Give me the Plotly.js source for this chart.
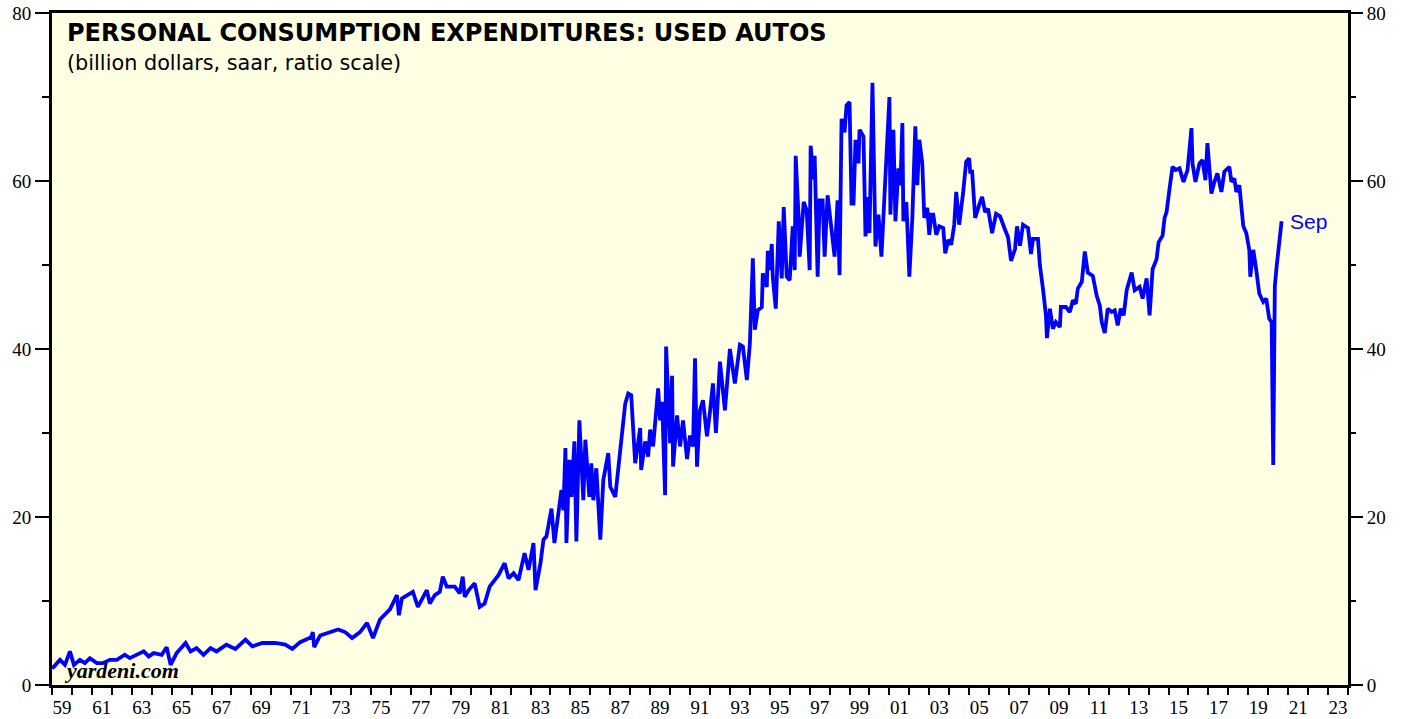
<!DOCTYPE html>
<html>
<head>
<meta charset="utf-8">
<script src="https://cdn.plot.ly/plotly-3.0.1.min.js"></script>
<style>html,body{margin:0;padding:0;background:#fff;}#chart{width:1407px;height:719px;}</style>
</head>
<body>
<div id="chart"></div>
<script>
// Decimal-year dates and values (billion dollars, saar)
const years = [
1959.0,1959.1,1959.4,1959.65,1959.9,1960.1,1960.4,1960.65,1960.9,1961.25,1961.55,1961.9,
1962.25,1962.65,1962.9,1963.25,1963.6,1963.85,1964.1,1964.5,1964.75,1964.95,1965.25,1965.7,
1965.95,1966.25,1966.6,1966.95,1967.25,1967.75,1968.2,1968.7,1969.05,1969.55,1970.2,1970.7,
1971.05,1971.45,1972.0,1972.08,1972.15,1972.45,1972.95,1973.35,1973.7,1974.05,1974.45,1974.8,
1975.1,1975.45,1975.95,1976.3,1976.4,1976.55,1977.1,1977.35,1977.8,1977.95,1978.2,1978.45,
1978.6,1978.8,1979.2,1979.45,1979.6,1979.7,1979.9,1980.2,1980.45,1980.7,1980.95,1981.4,
1981.7,1981.9,1982.15,1982.4,1982.7,1982.9,1983.15,1983.25,1983.5,1983.65,1983.8,1984.05,
1984.2,1984.4,1984.55,1984.65,1984.75,1984.8,1984.95,1985.05,1985.2,1985.3,1985.45,1985.65,
1985.75,1985.95,1986.05,1986.15,1986.3,1986.5,1986.65,1986.9,1987.0,1987.25,1987.5,1987.75,
1987.9,1988.05,1988.25,1988.5,1988.55,1988.75,1988.9,1989.0,1989.15,1989.25,1989.4,1989.5,
1989.6,1989.75,1989.8,1990.0,1990.1,1990.15,1990.35,1990.5,1990.65,1990.85,1991.0,1991.15,
1991.25,1991.35,1991.5,1991.65,1991.85,1992.0,1992.15,1992.3,1992.5,1992.75,1993.0,1993.25,
1993.5,1993.65,1993.85,1994.0,1994.15,1994.25,1994.4,1994.6,1994.65,1994.85,1994.9,1995.0,
1995.1,1995.15,1995.3,1995.45,1995.6,1995.7,1995.85,1996.0,1996.15,1996.25,1996.3,1996.45,
1996.5,1996.7,1996.85,1997.0,1997.05,1997.2,1997.25,1997.4,1997.5,1997.65,1997.75,1997.9,
1998.1,1998.25,1998.4,1998.5,1998.6,1998.75,1998.85,1999.0,1999.1,1999.2,1999.3,1999.45,
1999.5,1999.7,1999.8,1999.95,2000.0,2000.15,2000.3,2000.45,2000.6,2001.0,2001.05,2001.2,
2001.3,2001.45,2001.55,2001.65,2001.7,2001.85,2002.0,2002.15,2002.3,2002.4,2002.5,2002.65,
2002.75,2002.9,2003.0,2003.1,2003.2,2003.35,2003.5,2003.7,2003.8,2003.95,2004.1,2004.25,
2004.35,2004.5,2004.7,2004.85,2005.0,2005.05,2005.15,2005.3,2005.55,2005.65,2005.8,2005.95,
2006.05,2006.15,2006.35,2006.55,2006.8,2006.95,2007.1,2007.3,2007.4,2007.55,2007.7,2007.95,
2008.1,2008.2,2008.45,2008.55,2008.7,2008.85,2008.9,2009.05,2009.2,2009.35,2009.55,2009.6,
2009.85,2010.05,2010.2,2010.35,2010.45,2010.65,2010.8,2010.95,2011.2,2011.4,2011.55,2011.65,
2011.8,2011.95,2012.15,2012.3,2012.45,2012.6,2012.75,2012.9,2013.15,2013.3,2013.55,2013.7,
2013.9,2014.05,2014.2,2014.4,2014.5,2014.7,2014.8,2014.9,2015.05,2015.2,2015.35,2015.55,
2015.75,2015.95,2016.15,2016.2,2016.35,2016.55,2016.7,2016.85,2016.95,2017.15,2017.3,2017.45,
2017.65,2017.8,2018.05,2018.15,2018.3,2018.4,2018.55,2018.75,2018.9,2019.05,2019.1,2019.25,
2019.4,2019.55,2019.75,2019.9,2020.05,2020.17,2020.25,2020.33,2020.42,2020.5,2020.67
];
const usedAutos = [
2.0,2.2,3.0,2.4,4.0,2.4,3.0,2.6,3.2,2.6,2.6,3.0,
3.0,3.6,3.2,3.6,4.0,3.4,3.8,3.6,4.5,2.4,3.8,5.0,
4.0,4.4,3.6,4.4,4.0,4.8,4.3,5.4,4.6,5.0,5.0,4.8,
4.3,5.1,5.7,6.3,4.5,5.9,6.3,6.6,6.3,5.6,6.3,7.4,
5.6,7.8,9.0,10.7,8.3,10.3,11.1,9.3,11.3,9.7,10.7,11.1,
12.9,11.7,11.7,10.9,12.9,10.5,11.3,12.1,9.3,9.7,11.7,13.1,
14.5,12.7,13.3,12.5,15.7,13.7,16.9,11.3,14.5,17.3,17.7,21.0,
16.9,20.4,23.2,20.8,28.2,16.9,26.8,22.4,29.0,17.1,31.5,22.0,
29.2,22.4,26.4,22.0,25.8,17.3,24.4,27.6,23.6,22.4,27.9,33.5,
34.7,34.5,26.4,30.6,25.6,29.0,27.2,30.4,28.4,31.7,35.3,31.5,
33.7,22.6,40.3,28.8,36.8,26.0,32.1,28.4,31.5,26.9,29.7,28.4,
38.9,26.0,32.7,33.9,29.6,32.5,35.9,30.0,38.5,32.7,40.0,35.9,
40.5,40.3,36.3,40.6,50.8,42.3,44.6,45.0,49.0,47.4,51.7,49.4,
52.5,48.6,44.8,55.2,48.4,56.9,48.6,48.2,54.6,49.4,63.0,55.4,
51.0,57.5,56.5,49.4,64.2,60.2,63.0,48.6,57.7,57.7,51.0,58.3,
54.2,51.0,57.7,48.8,67.4,65.8,69.0,69.4,57.3,57.3,64.9,62.1,
66.1,65.3,53.4,58.1,53.8,71.7,52.2,56.0,51.0,70.0,56.0,66.1,
55.2,61.5,59.5,66.9,55.2,57.5,48.6,55.6,66.5,59.5,64.9,62.1,
55.6,56.8,53.6,56.0,56.0,53.6,54.6,54.4,51.4,53.0,52.4,54.8,
58.7,54.8,58.7,62.3,62.7,61.1,61.1,55.6,57.5,58.1,56.3,56.7,
55.2,53.8,56.1,55.8,54.2,53.3,50.5,51.9,54.6,52.3,54.8,54.4,
51.3,53.1,53.1,49.9,47.2,44.0,41.3,44.8,42.4,43.2,42.6,45.0,
45.0,44.4,45.8,45.4,47.2,48.0,51.6,49.1,48.7,46.3,45.2,43.2,
41.9,44.8,44.4,44.6,42.8,44.8,44.0,47.0,49.1,47.0,47.4,46.0,
48.4,44.0,49.5,50.7,52.7,53.5,55.6,56.3,59.1,61.7,61.3,61.5,
59.9,61.3,66.3,62.1,59.9,62.1,62.5,60.1,64.5,58.5,59.9,60.9,
58.7,61.1,61.7,59.9,60.3,58.7,59.5,54.6,53.8,51.8,48.6,51.8,
49.4,46.6,45.6,46.0,43.6,43.2,26.2,47.5,49.8,51.8,55.2
];
const lastLabel = "Sep";
const yMajorTicks = [0, 20, 40, 60, 80];
const yMinorTicks = [10, 30, 50, 70];
const firstYear = 1959, lastYear = 2024;
const yearTicks = [];
for (let y = firstYear; y <= lastYear; y++) yearTicks.push(y);
const labelYears = yearTicks.filter(y => y < lastYear && (y - firstYear) % 2 === 0);
const labelPos = labelYears.map(y => y + 0.5);
const labelText = labelYears.map(y => String(y % 100).padStart(2, '0'));

const serif = "Liberation Serif, Times New Roman, serif";
const sans = "DejaVu Sans, Liberation Sans, Arial, sans-serif";
const sans2 = "Liberation Sans, Arial, sans-serif";

const trace = {
  x: years, y: usedAutos, type: 'scatter', mode: 'lines',
  line: {color: '#0000ff', width: 3.8}, hoverinfo: 'skip', xaxis: 'x', yaxis: 'y'
};
const dummy = {x: [firstYear], y: [0], xaxis: 'x2', yaxis: 'y2', mode: 'markers',
  marker: {opacity: 0}, hoverinfo: 'skip', showlegend: false};

const layout = {
  width: 1407, height: 719,
  margin: {l: 52, r: 59, t: 13, b: 34, pad: 0},
  paper_bgcolor: '#ffffff', plot_bgcolor: '#ffffe4',
  showlegend: false,
  xaxis: {
    range: [firstYear, lastYear], tickmode: 'array', tickvals: yearTicks,
    showticklabels: false, ticks: 'outside', ticklen: 7, tickwidth: 2, tickcolor: '#000',
    showline: true, linewidth: 3, linecolor: '#000', mirror: true,
    showgrid: false, zeroline: false, fixedrange: true
  },
  xaxis2: {
    overlaying: 'x', anchor: 'y', side: 'bottom',
    range: [firstYear, lastYear], tickmode: 'array', tickvals: labelPos, ticktext: labelText,
    ticks: 'outside', ticklen: 5, tickcolor: 'rgba(0,0,0,0)',
    tickfont: {family: serif, size: 19, color: '#000'},
    showline: false, showgrid: false, zeroline: false
  },
  yaxis: {
    range: [0, 80], tickmode: 'array', tickvals: yMajorTicks,
    ticks: 'outside', ticklen: 14, tickwidth: 1.5, tickcolor: '#000',
    tickfont: {family: serif, size: 19, color: '#000'},
    minor: {tickmode: 'array', tickvals: yMinorTicks, ticks: 'outside', ticklen: 7, tickwidth: 1.5, tickcolor: '#000', showgrid: false},
    showline: true, linewidth: 3, linecolor: '#000', mirror: true,
    showgrid: false, zeroline: false, fixedrange: true
  },
  yaxis2: {
    overlaying: 'y', anchor: 'x', side: 'right',
    range: [0, 80], tickmode: 'array', tickvals: yMajorTicks,
    ticks: 'outside', ticklen: 14, tickwidth: 1.5, tickcolor: '#000',
    tickfont: {family: serif, size: 19, color: '#000'},
    minor: {tickmode: 'array', tickvals: yMinorTicks, ticks: 'outside', ticklen: 7, tickwidth: 1.5, tickcolor: '#000', showgrid: false},
    showline: false, showgrid: false, zeroline: false
  },
  annotations: [
    {xref: 'paper', yref: 'paper', x: 0.0104, y: 0.9695, xanchor: 'left', yanchor: 'middle',
     text: '<b>PERSONAL CONSUMPTION EXPENDITURES: USED AUTOS</b>', showarrow: false,
     font: {family: sans, size: 24, color: '#000'}},
    {xref: 'paper', yref: 'paper', x: 0.0104, y: 0.925, xanchor: 'left', yanchor: 'middle',
     text: '(billion dollars, saar, ratio scale)', showarrow: false,
     font: {family: sans, size: 20.8, color: '#000'}},
    {xref: 'paper', yref: 'paper', x: 0.0075, y: 0.022, xanchor: 'left', yanchor: 'middle',
     text: '<b><i>yardeni.com</i></b>', showarrow: false,
     font: {family: serif, size: 22, color: '#000'}},
    {xref: 'x', yref: 'y', x: years[years.length - 1], y: usedAutos[usedAutos.length - 1],
     xanchor: 'left', yanchor: 'middle', xshift: 6, yshift: 0,
     text: lastLabel, showarrow: false, font: {family: sans2, size: 21, color: '#0000ff'}}
  ]
};

Plotly.newPlot('chart', [trace, dummy], layout, {displayModeBar: false, staticPlot: true});
</script>
</body>
</html>
